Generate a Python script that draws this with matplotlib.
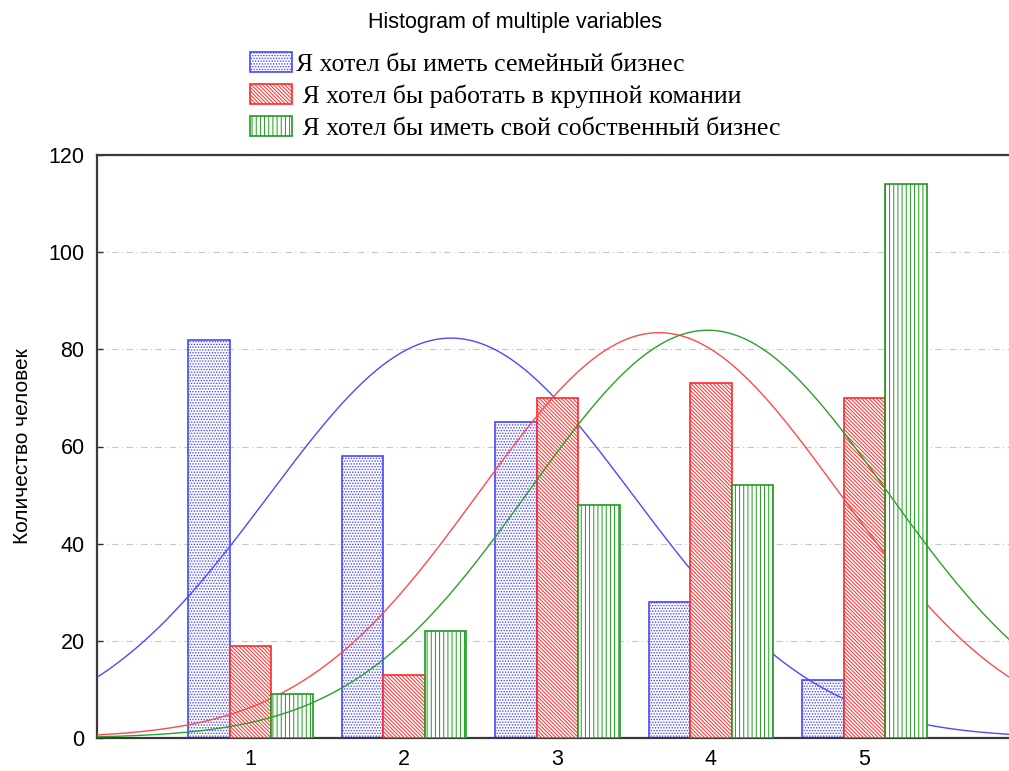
import numpy as np
import matplotlib
matplotlib.use("Agg")
import matplotlib.pyplot as plt

# данные гистограммы (оценки 1..5, количество человек)
categories = [1, 2, 3, 4, 5]
labels = ["Я хотел бы иметь семейный бизнес",
          " Я хотел бы работать в крупной комании",
          " Я хотел бы иметь свой собственный бизнес"]
family_biz = [82, 58, 65, 28, 12]
big_company = [19, 13, 70, 73, 70]
own_biz = [9, 22, 48, 52, 114]

series = [family_biz, big_company, own_biz]
edge_colors = ["#4848ff", "#ff2a2a", "#1f9a1f"]
line_colors = ["#4a4aff", "#ff4a4a", "#2aa02a"]
hatches = ["......", "\\\\\\\\\\\\\\\\\\", "||||"]
offsets = [-0.27, 0.0, 0.27]
width = 0.27

plt.rcParams["hatch.linewidth"] = 0.7

fig = plt.figure(figsize=(10.09, 7.71), dpi=100)
ax = fig.add_axes([97 / 1009, 33 / 771, 921 / 1009, 583 / 771])

x = np.array(categories, dtype=float)
xs = np.linspace(0, 6, 400)

for i, vals in enumerate(series):
    vals = np.array(vals, dtype=float)
    ax.bar(x + offsets[i], vals, width=width, facecolor="white",
           edgecolor=edge_colors[i], hatch=hatches[i], linewidth=1.2,
           zorder=2 + 2 * i)
    # нормальная кривая по тем же данным
    n = vals.sum()
    mean = (x * vals).sum() / n
    sd = np.sqrt(((x - mean) ** 2 * vals).sum() / (n - 1))
    yy = n * np.exp(-0.5 * ((xs - mean) / sd) ** 2) / (sd * np.sqrt(2 * np.pi))
    ax.plot(xs, yy, color=line_colors[i], linewidth=1.0, zorder=3 + 2 * i)

ax.set_xlim(0, 6)
ax.set_ylim(0, 120)
ax.set_xticks(categories)
ax.set_yticks(range(0, 121, 20))
ax.tick_params(direction="in", length=4, width=1, labelsize=15.5,
               colors="#333333", labelcolor="black")
ax.tick_params(axis="y", pad=9)
ax.tick_params(axis="x", pad=8)
for lab in ax.get_xticklabels() + ax.get_yticklabels():
    lab.set_family("Liberation Sans")
ax.yaxis.grid(True, linestyle=(0, (6, 3, 1, 3)), color="#c8c8c8", linewidth=0.8)
ax.set_axisbelow(True)
for s in ["left", "top", "bottom", "right"]:
    ax.spines[s].set_color("#3a3a3a")
    ax.spines[s].set_linewidth(1.6)

ax.set_ylabel("Количество человек", family="Liberation Sans", fontsize=15, labelpad=12)

fig.text(0.51, 0.971, "Histogram of multiple variables", ha="center", va="center",
         family="Liberation Sans", fontsize=15.5)

handles = [plt.Rectangle((0, 0), 1, 1, facecolor="white", edgecolor=edge_colors[i],
                         hatch=hatches[i], linewidth=1.2) for i in range(3)]
fig.legend(handles, labels, loc="upper left", bbox_to_anchor=(237 / 1009, 1 - 39 / 771),
           frameon=False, prop={"family": "Liberation Serif", "size": 18.5},
           handlelength=1.65, handleheight=0.8, handletextpad=0.15, labelspacing=0.33,
           borderpad=0.0)

fig.savefig("out.png", dpi=100)
